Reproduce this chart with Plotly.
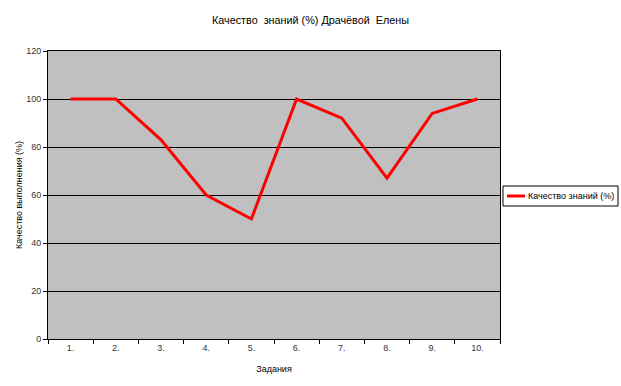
import plotly.graph_objects as go

tasks = ["1.", "2.", "3.", "4.", "5.", "6.", "7.", "8.", "9.", "10."]
quality = [100, 100, 83, 60, 50, 100, 92, 67, 94, 100]
y_ticks = [0, 20, 40, 60, 80, 100, 120]
series_name = "Качество знаний (%)"

font = "Liberation Sans, Arial, sans-serif"
PW, PH = 452, 288  # plot area size in px

def px_x(x):
    return (x - 48) / PW

def px_y(y):
    return (339 - y) / PH

fig = go.Figure()
fig.add_trace(go.Scatter(
    x=tasks, y=quality, mode="lines", name=series_name,
    line=dict(color="#FF0000", width=3), showlegend=False,
))

fig.update_layout(
    width=621, height=386,
    margin=dict(l=48, r=121, t=51, b=47),
    paper_bgcolor="white", plot_bgcolor="#C0C0C0",
    font=dict(family=font, size=9, color="#000000"),
    title=dict(text="Качество  знаний (%) Драчёвой  Елены", x=0.5, xanchor="center",
               y=0.948, yanchor="middle", font=dict(size=10.8, family=font, color="#000000")),
    showlegend=False,
)
# legend box drawn manually so it does not push the plot margins
fig.add_shape(type="rect", xref="paper", yref="paper",
              x0=px_x(503), x1=px_x(618), y0=px_y(206), y1=px_y(186),
              line=dict(color="#000000", width=1), fillcolor="white", layer="above")
fig.add_shape(type="line", xref="paper", yref="paper",
              x0=px_x(507), x1=px_x(525), y0=px_y(196), y1=px_y(196),
              line=dict(color="#FF0000", width=3), layer="above")
fig.add_annotation(text=series_name, xref="paper", yref="paper",
                   x=px_x(526), y=px_y(196), xanchor="left", yanchor="middle",
                   showarrow=False, font=dict(size=9, family=font))

fig.update_xaxes(
    type="category", tickson="boundaries", ticks="outside", ticklen=4,
    range=[-0.5, 9.5], automargin=False,
    tickcolor="#000000", showline=True, linecolor="#000000", linewidth=1,
    mirror=True, showgrid=False,
    title=dict(text="Задания", font=dict(size=9, family=font), standoff=13),
    tickfont=dict(size=9, color="#333333"),
)
fig.update_yaxes(
    range=[0, 120], tickvals=y_ticks, ticks="outside", ticklen=4, automargin=False,
    tickcolor="#000000", showline=True, linecolor="#000000", linewidth=1,
    mirror=True, showgrid=True, gridcolor="#000000", gridwidth=1,
    zeroline=False,
    title=dict(text="Качество выполнения (%)", font=dict(size=9, family=font), standoff=2),
    tickfont=dict(size=9, color="#333333"),
)

fig.write_html("out.html", post_script="document.body.style.margin='0';",
               config={"displayModeBar": False})
